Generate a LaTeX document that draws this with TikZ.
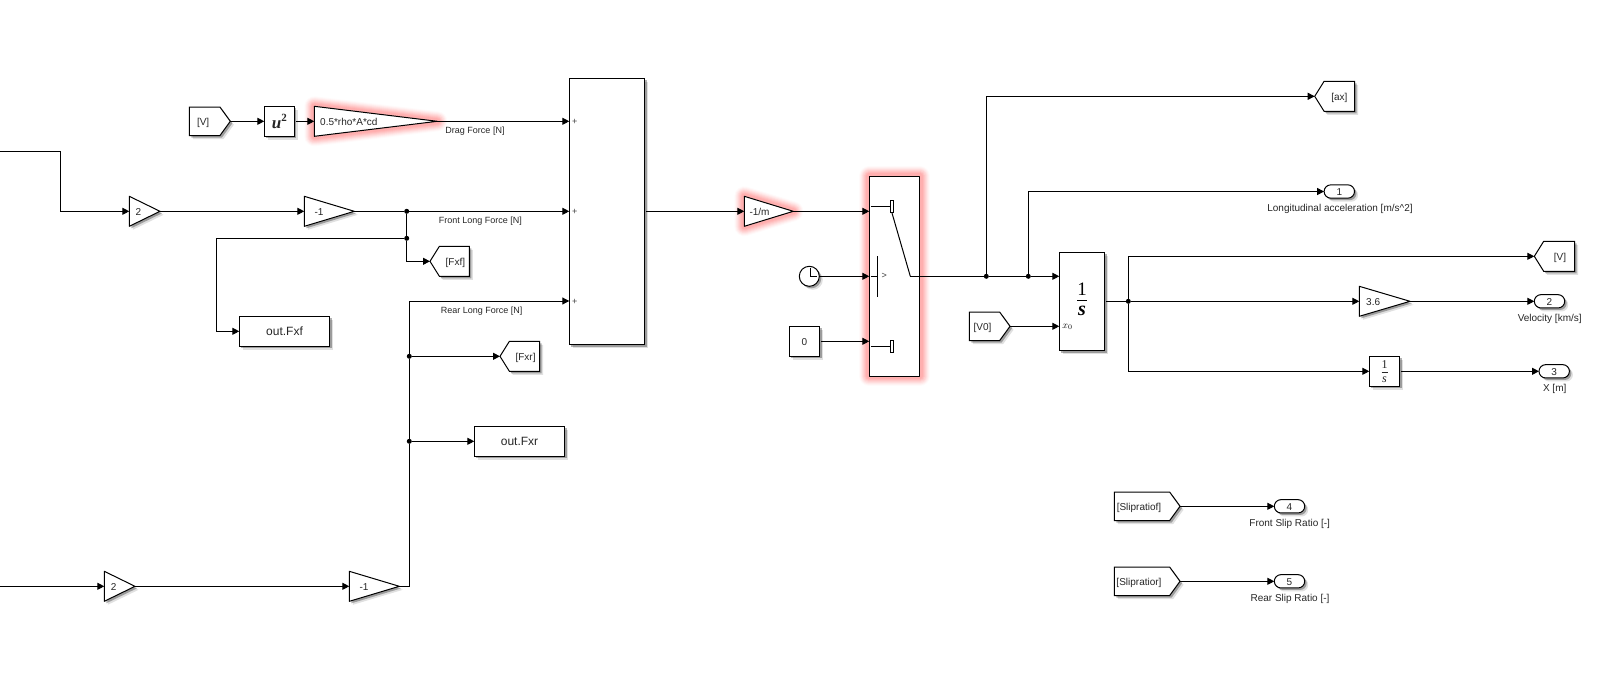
\documentclass[tikz,border=0pt]{standalone}
\usepackage{fontspec}
\setmainfont{Liberation Sans}
\newfontfamily\serifblk{Liberation Serif}
\usetikzlibrary{arrows.meta,shapes.geometric,shapes.symbols,shapes.misc,shadows}
\tikzset{
	blkshadow/.style={drop shadow={shadow xshift=3.5pt,shadow yshift=-3.5pt,opacity=.12,fill=black},drop shadow={shadow xshift=2pt,shadow yshift=-2pt,opacity=.3,fill=black}},
	glowing/.style={line join=round,
		preaction={draw=red,line width=20pt,opacity=.02},
		preaction={draw=red,line width=18pt,opacity=.03},
		preaction={draw=red,line width=16pt,opacity=.04},
		preaction={draw=red,line width=14pt,opacity=.05},
		preaction={draw=red,line width=12pt,opacity=.05},
		preaction={draw=red,line width=10pt,opacity=.06},
		preaction={draw=red,line width=8pt,opacity=.06},
		preaction={draw=red,line width=6pt,opacity=.06}},
	blk/.style={draw,fill=white,line width=1pt,inner sep=0pt,outer sep=0pt,font=\fontsize{10}{12}\selectfont,text=black!85},
	blktxt/.style={text height=8pt,text depth=0pt},
	rectblk/.style={blk,blkshadow,rectangle,minimum width=#1,minimum height=30pt},
	gainblk/.style={blk,line join=round,isosceles triangle,isosceles triangle stretches,anchor=west,minimum width=30pt,minimum height=#1},
	fromblk/.style={blk,blktxt,blkshadow,signal,signal to=east,signal pointer angle=108,anchor=west,minimum width=#1,minimum height=28.5pt},
	gotoblk/.style={blk,blktxt,blkshadow,signal,signal to=west,signal pointer angle=116,anchor=west,minimum width=#1,minimum height=30pt},
	outblk/.style={blk,blktxt,blkshadow,rounded rectangle,minimum width=30.4pt,minimum height=13.3pt},
	jct/.style={circle,fill=black,inner sep=0pt,minimum size=5pt},
	sig/.style={line width=1pt,-{Triangle[length=7pt,width=7pt]}},
	wire/.style={line width=1pt},
	sigtxt/.style={font=\fontsize{10}{12}\selectfont,text=black!85,inner sep=0pt,blktxt},
	linetxt/.style={font=\fontsize{9}{11}\selectfont,text=black!85,inner sep=0pt,blktxt},
	gaintxt/.style={font=\fontsize{10}{12}\selectfont,text=black!85,inner sep=0pt,anchor=west,blktxt},
	plustxt/.style={font=\fontsize{9}{9}\selectfont,text=black!75,inner sep=0pt}
}
\begin{document}
\begin{tikzpicture}[x=1pt,y=-1pt]
	\useasboundingbox (0,0) rectangle (1605,686);
	% adder and its ports
	\node[blk,blkshadow,minimum width=75.4pt,minimum height=266.4pt] (sumblk) at (607,211.5) {};
	\node[plustxt] (plusA) at (574.7,122) {+};
	\node[plustxt] (plusB) at (574.7,212.2) {+};
	\node[plustxt] (plusC) at (574.7,302) {+};
	\coordinate (portDrag) at (569.3,121.3);
	\coordinate (portFront) at (569.3,211.3);
	\coordinate (portRear) at (569.3,301);
	% drag row
	\node[fromblk=41pt] (fromV) at (189.3,121.3) {[V]\kern3pt};
	\node[rectblk=30pt] (sqblk) at (279.3,121.3) {\fontsize{17}{17}\selectfont\serifblk\bfseries\itshape u\raisebox{.4em}{\fontsize{11}{11}\selectfont\upshape 2}};
	\node[gainblk=123pt,glowing] (gainDrag) at (314.3,121.3) {};
	\node[gaintxt] (gainDragTxt) at ([xshift=5.7pt]gainDrag.west) {0.5*rho*A*cd};
	\node[linetxt] (lblDrag) at (475,129) {Drag Force [N]};
	\draw[sig] (fromV.east) -- (sqblk.west);
	\draw[sig] ([xshift=1.5pt]sqblk.east) -- (gainDrag.west);
	\draw[sig] (gainDrag.east) -- (portDrag);
	% front axle
	\coordinate (inFront) at (0,151.3);
	\coordinate (kneeFront) at (60.3,151.3);
	\node[gainblk=30.7pt,blkshadow] (gainFrontTwo) at (129.3,211.3) {};
	\node[gaintxt] (gainFrontTwoTxt) at ([xshift=6pt]gainFrontTwo.west) {2};
	\node[gainblk=50pt,blkshadow] (gainFront) at (304.3,211.3) {};
	\node[gaintxt] (gainFrontTxt) at ([xshift=10pt]gainFront.west) {-1};
	\node[jct] (jFront) at (406.7,211.3) {};
	\node[jct] (jFxf) at (406.7,238.3) {};
	\coordinate (kneeOutF) at (216.7,238.3);
	\node[linetxt] (lblFront) at (480.3,219) {Front Long Force [N]};
	\node[gotoblk=39.3pt] (gotoFxf) at (430,261.3) {\hspace{2pt}[Fxf]};
	\node[rectblk=90.4pt] (outFxf) at (284.5,331.3) {\fontsize{12}{14}\selectfont out.Fxf};
	\draw[sig] (inFront) -- (kneeFront) |- (gainFrontTwo.west);
	\draw[sig] (gainFrontTwo.east) -- (gainFront.west);
	\draw[sig] (gainFront.east) -- (jFront) -- (portFront);
	\draw[wire] (jFront) -- (jFxf);
	\draw[sig] (jFxf) |- (gotoFxf.west);
	\draw[sig] (jFxf) -- (kneeOutF) |- (outFxf.west);
	% rear axle
	\coordinate (inRear) at (0,586.3);
	\coordinate (kneeRear) at (409.3,586.3);
	\node[gainblk=30.7pt,blkshadow] (gainRearTwo) at (104.3,586.3) {};
	\node[gaintxt] (gainRearTwoTxt) at ([xshift=6.4pt]gainRearTwo.west) {2};
	\node[gainblk=50pt,blkshadow] (gainRear) at (349.3,586.3) {};
	\node[gaintxt] (gainRearTxt) at ([xshift=10pt]gainRear.west) {-1};
	\node[jct] (jOutR) at (409.3,441.3) {};
	\node[jct] (jFxr) at (409.3,356.3) {};
	\node[linetxt] (lblRear) at (481.7,309) {Rear Long Force [N]};
	\node[gotoblk=39.7pt] (gotoFxr) at (500,356.3) {\hspace{2pt}[Fxr]};
	\node[rectblk=90.4pt] (outFxr) at (519.5,441.3) {\fontsize{12}{14}\selectfont out.Fxr};
	\draw[sig] (inRear) -- (gainRearTwo.west);
	\draw[sig] (gainRearTwo.east) -- (gainRear.west);
	\draw[sig] (gainRear.east) -- (kneeRear) -- (jOutR) -- (jFxr) |- (portRear);
	\draw[sig] (jFxr) -- (gotoFxr.west);
	\draw[sig] (jOutR) -- (outFxr.west);
	% mass gain and switch
	\node[gainblk=49pt,glowing] (gainMass) at (744.3,211.3) {};
	\node[gaintxt] (gainMassTxt) at ([xshift=5pt]gainMass.west) {-1/m};
	\node[blk,glowing,minimum width=50.4pt,minimum height=200pt] (swt) at (894.5,276.3) {};
	\node[blk,circle,blkshadow,minimum size=20pt] (clk) at (809.3,276.3) {};
	\draw[line width=.7pt] ([yshift=8pt,xshift=1pt]clk.center) -- ([xshift=1pt]clk.center) -- ([xshift=8pt]clk.center);
	\node[rectblk=30.4pt,blktxt] (cstZero) at (804.5,341.3) {0};
	\draw[sig] ([xshift=1.5pt]sumblk.east |- gainMass.west) -- (gainMass.west);
	\draw[sig] (gainMass.east) -- (gainMass.east -| swt.west);
	\draw[sig] (clk.east) -- (clk.east -| swt.west);
	\draw[sig] ([xshift=1.5pt]cstZero.east) -- (cstZero.east -| swt.west);
	% switch icon
	\node[draw,fill=white,line width=.7pt,inner sep=0pt,minimum width=3.4pt,minimum height=12.4pt] (contactTop) at (892,206.5) {};
	\node[draw,fill=white,line width=.7pt,inner sep=0pt,minimum width=3.4pt,minimum height=12.4pt] (contactBot) at (892,346.3) {};
	\coordinate (swtKnee) at (910.3,276.3);
	\coordinate (barTop) at (877.3,256);
	\coordinate (barBot) at (877.3,296.7);
	\node[plustxt] (swtCrit) at (884.3,276.3) {>};
	\draw[wire] ([xshift=1.5pt]swt.west |- contactTop) -- (contactTop.west);
	\draw[wire] ([xshift=1.5pt]swt.west |- contactBot) -- (contactBot.west);
	\draw[wire] (barTop) -- (barBot);
	\draw[wire] ([xshift=1.5pt]swt.west) -- (swt.west -| barTop);
	\draw[wire] (contactTop.south) -- (swtKnee);
	% integrator
	\node[blk,blkshadow,minimum width=45.4pt,minimum height=98.4pt] (intg) at (1082,301.5) {};
	\node[inner sep=0pt] (intgTxt) at (1082,299.3) {$\displaystyle\frac{\hbox{\fontsize{19}{19}\selectfont\serifblk 1}\rule[-4pt]{0pt}{4pt}}{\rule{0pt}{14pt}\hbox{\fontsize{20}{20}\selectfont\serifblk\bfseries\itshape s}}$};
	\node[inner sep=0pt,font=\fontsize{10}{10}\selectfont] (intgIc) at (1067.5,326.7) {$x_0$};
	\node[fromblk=40.7pt] (fromVzero) at (969.3,326.3) {[V0]\kern4pt};
	\node[jct] (jAx) at (986.3,276.3) {};
	\node[jct] (jLong) at (1028.3,276.3) {};
	\draw[sig] (swtKnee) -- (jAx) -- (jLong) -- (jLong -| intg.west);
	\draw[sig] (fromVzero.east) -- (fromVzero.east -| intg.west);
	% outputs of the acceleration
	\node[gotoblk=40pt] (gotoAx) at (1314.7,96.3) {[ax]};
	\node[outblk] (outA) at (1339.3,191.5) {1};
	\node[sigtxt] (lblA) at (1340,207.7) {Longitudinal acceleration [m/s\textasciicircum 2]};
	\draw[sig] (jAx) |- (gotoAx.west);
	\draw[sig] (jLong) |- (outA.west);
	% outputs of the velocity
	\node[jct] (jVel) at (1128.3,301.3) {};
	\node[gotoblk=40.4pt] (gotoV) at (1534.3,256.3) {\hspace{1.5pt}[V]};
	\node[gainblk=50.7pt,blkshadow] (gainKmh) at (1359.3,301.3) {};
	\node[gaintxt] (gainKmhTxt) at ([xshift=6.7pt]gainKmh.west) {3.6};
	\node[outblk] (outB) at (1549.5,301.3) {2};
	\node[sigtxt] (lblB) at (1549.7,317.7) {Velocity [km/s]};
	\node[rectblk=30.4pt] (intgX) at (1384.5,371.3) {$\displaystyle\frac{\hbox{\fontsize{12}{12}\selectfont\serifblk 1}}{\hbox{\fontsize{12}{12}\selectfont\serifblk\itshape s}}$};
	\node[outblk] (outC) at (1554.2,371.3) {3};
	\node[sigtxt] (lblC) at (1554.7,387.7) {X [m]};
	\draw[wire] ([xshift=1.5pt]intg.east |- jVel) -- (jVel);
	\draw[sig] (jVel) |- (gotoV.west);
	\draw[sig] (jVel) -- (gainKmh.west);
	\draw[sig] (gainKmh.east) -- (outB.west);
	\draw[sig] (jVel) |- (intgX.west);
	\draw[sig] ([xshift=1.5pt]intgX.east) -- (outC.west);
	% slip ratios
	\node[fromblk=65.7pt] (fromSlipF) at (1114.3,506.3) {[Slipratiof]\kern6pt};
	\node[fromblk=65.7pt] (fromSlipR) at (1114.3,581.3) {[Slipratior]\kern6pt};
	\node[outblk] (outD) at (1289.5,506.3) {4};
	\node[outblk] (outE) at (1289.5,581.3) {5};
	\node[sigtxt] (lblD) at (1289.7,522) {Front Slip Ratio [-]};
	\node[sigtxt] (lblE) at (1290,597) {Rear Slip Ratio [-]};
	\draw[sig] (fromSlipF.east) -- (outD.west);
	\draw[sig] (fromSlipR.east) -- (outE.west);
\end{tikzpicture}
\end{document}
